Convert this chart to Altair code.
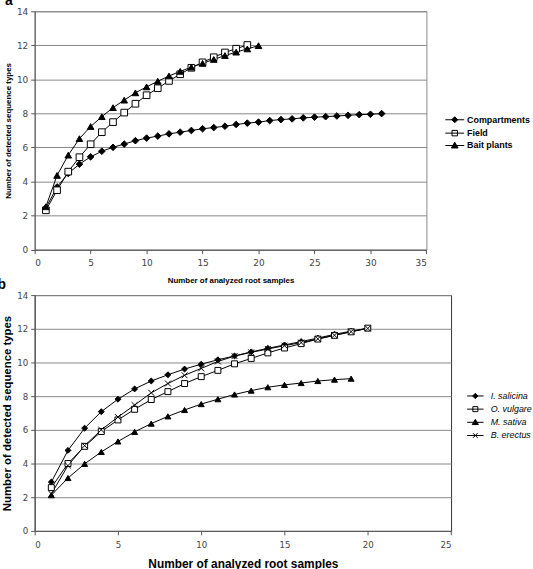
import altair as alt
import pandas as pd

# ---- Panel a: accumulation curves by sampling design ----
series_a = ["Compartments", "Field", "Bait plants"]
samples_compartments = list(range(1, 32))
compartments = [2.45, 3.68, 4.48, 5.02, 5.45, 5.78, 6.01, 6.2, 6.4, 6.55,
                6.67, 6.8, 6.9, 7.0, 7.1, 7.17, 7.25, 7.35, 7.43, 7.49,
                7.58, 7.64, 7.68, 7.74, 7.78, 7.81, 7.85, 7.89, 7.93, 7.95, 7.99]
samples_field = list(range(1, 20))
field = [2.31, 3.49, 4.58, 5.43, 6.19, 6.9, 7.49, 8.05, 8.57, 9.07,
         9.48, 9.91, 10.3, 10.68, 11.0, 11.3, 11.58, 11.8, 12.02]
samples_bait = list(range(1, 21))
bait_plants = [2.52, 4.36, 5.55, 6.52, 7.23, 7.81, 8.34, 8.78, 9.21, 9.56,
               9.89, 10.2, 10.47, 10.72, 10.94, 11.17, 11.4, 11.6, 11.79, 11.98]

# ---- Panel b: accumulation curves by host plant ----
series_b = ["I. salicina", "O. vulgare", "M. sativa", "B. erectus"]
samples_salicina = list(range(1, 21))
salicina = [2.9, 4.78, 6.1, 7.08, 7.82, 8.43, 8.9, 9.27, 9.61, 9.9,
            10.16, 10.39, 10.63, 10.84, 11.04, 11.24, 11.45, 11.67, 11.86, 12.04]
samples_vulgare = list(range(1, 21))
vulgare = [2.57, 4.0, 5.02, 5.9, 6.59, 7.22, 7.8, 8.27, 8.75, 9.16,
           9.53, 9.92, 10.24, 10.57, 10.86, 11.12, 11.39, 11.61, 11.82, 12.04]
samples_sativa = list(range(1, 20))
sativa = [2.12, 3.14, 3.98, 4.69, 5.31, 5.88, 6.37, 6.8, 7.18, 7.53,
          7.82, 8.1, 8.33, 8.53, 8.67, 8.78, 8.9, 8.98, 9.04]
samples_erectus = list(range(1, 21))
erectus = [2.2, 3.88, 5.06, 6.0, 6.76, 7.47, 8.2, 8.75, 9.24, 9.65,
           10.06, 10.38, 10.6, 10.8, 11.0, 11.18, 11.4, 11.62, 11.83, 12.02]

ticks_a = [0, 5, 10, 15, 20, 25, 30, 35]
ticks_b = [0, 5, 10, 15, 20, 25]
ticks_y = [0, 2, 4, 6, 8, 10, 12, 14]


def long_table(parts):
    rows = []
    for name, xs, ys in parts:
        for x, y in zip(xs, ys):
            rows.append({"series": name, "samples": x, "types": y})
    return pd.DataFrame(rows)


df_a = long_table([
    ("Compartments", samples_compartments, compartments),
    ("Field", samples_field, field),
    ("Bait plants", samples_bait, bait_plants),
])
df_b = long_table([
    ("I. salicina", samples_salicina, salicina),
    ("O. vulgare", samples_vulgare, vulgare),
    ("M. sativa", samples_sativa, sativa),
    ("B. erectus", samples_erectus, erectus),
])

X_PATH = "M-1,-1L1,1M-1,1L1,-1"

# legend glyphs: a short line with the marker in its middle
glyphs_a = [
    "M-1.73,0H1.73M0,-0.55L0.55,0L0,0.55L-0.55,0Z",
    "M-1.73,0H1.73M-0.5,-0.5H0.5V0.5H-0.5Z",
    "M-1.73,0H1.73M0,-0.6L0.62,0.45H-0.62Z",
]
glyphs_b = [
    "M-1.38,0H1.38M0,-0.45L0.45,0L0,0.45L-0.45,0Z",
    "M-1.38,0H1.38M-0.42,-0.42H0.42V0.42H-0.42Z",
    "M-1.38,0H1.38M0,-0.5L0.52,0.38H-0.52Z",
    "M-1.38,0H1.38M-0.4,-0.4L0.4,0.4M-0.4,0.4L0.4,-0.4",
]

LABEL_FONT = "DejaVu Sans"
TITLE_FONT = "Liberation Sans"


def panel(df, series, shapes, glyphs, fills, xmax, xticks, width, height, size,
          axis_label_size, x_title_size, y_title_size, legend, letter, letter_dx,
          frame_color, y_title_pad, x_label_pad, x_title_pad):
    x = alt.X("samples:Q", scale=alt.Scale(domain=[0, xmax], nice=False),
              axis=alt.Axis(values=xticks, title="Number of analyzed root samples",
                            titleFont=TITLE_FONT, titleFontSize=x_title_size,
                            titleFontWeight="bold", titleColor="black",
                            titlePadding=x_title_pad,
                            labelFont=LABEL_FONT, labelFontSize=axis_label_size,
                            labelColor="#444", labelPadding=x_label_pad,
                            grid=False, tickSize=4, tickColor="#555",
                            domainColor="#555"))
    y = alt.Y("types:Q", scale=alt.Scale(domain=[0, 14], nice=False),
              axis=alt.Axis(values=ticks_y, title="Number of detected sequence types",
                            titleFont=TITLE_FONT, titleFontSize=y_title_size,
                            titleFontWeight="bold", titleColor="black",
                            titlePadding=y_title_pad,
                            labelFont=LABEL_FONT, labelFontSize=axis_label_size,
                            labelColor="#444", labelPadding=3,
                            grid=True, gridColor="#888", gridWidth=1,
                            tickSize=4, tickColor="#555", domainColor="#555"))
    lines = alt.Chart(df).mark_line(color="black", strokeWidth=1).encode(
        x=x, y=y, detail="series:N")
    points = alt.Chart(df).mark_point(size=size, stroke="black", strokeWidth=1,
                                      opacity=1, fillOpacity=1).encode(
        x=x, y=y,
        shape=alt.Shape("series:N", scale=alt.Scale(domain=series, range=shapes),
                        legend=None),
        fill=alt.Fill("series:N", scale=alt.Scale(domain=series, range=fills),
                      legend=None),
    )
    # invisible layer that only carries the line-and-marker legend
    key = alt.Chart(df).mark_point(opacity=0).encode(
        x=x, y=y,
        shape=alt.Shape("series:N", scale=alt.Scale(domain=series, range=glyphs),
                        legend=legend),
        fill=alt.Fill("series:N", scale=alt.Scale(domain=series, range=fills),
                      legend=legend),
        stroke=alt.Stroke("series:N",
                          scale=alt.Scale(domain=series, range=["black"] * len(series)),
                          legend=legend),
    )
    return alt.layer(lines, points, key).resolve_scale(
        shape="independent", fill="independent", stroke="independent"
    ).resolve_legend(shape="independent", fill="independent",
                     stroke="independent").properties(
        width=width, height=height,
        title=alt.TitleParams(letter, anchor="start", frame="bounds",
                              font=TITLE_FONT, fontSize=14, fontWeight="bold",
                              color="black", offset=-1, dx=letter_dx),
        view=alt.ViewBackground(stroke=frame_color, strokeWidth=1),
    )


legend_a = alt.Legend(
    title=None, orient="none", legendX=418, legendY=103.5,
    labelFont=TITLE_FONT, labelFontSize=9, labelFontWeight="bold", labelColor="black",
    symbolSize=121, symbolStrokeWidth=1, symbolStrokeColor="black", symbolOpacity=1,
    labelOffset=6.4, rowPadding=1.5,
)
legend_b = alt.Legend(
    title=None, orient="none", legendX=438.3, legendY=95.3,
    labelFont=TITLE_FONT, labelFontSize=9, labelFontStyle="italic", labelColor="black",
    symbolSize=144, symbolStrokeWidth=1, symbolStrokeColor="black", symbolOpacity=1,
    labelOffset=9, rowPadding=1.3,
)

chart_a = panel(df_a, series_a, ["diamond", "square", "triangle-up"], glyphs_a,
                ["black", "white", "black"], 35, ticks_a, 395.4, 240.6, 45,
                9, 8, 8, legend_a, "a", 0, "#8a8a8a", 3.5, 5, 9)
chart_b = panel(df_b, series_b, ["diamond", "square", "triangle-up", X_PATH], glyphs_b,
                ["black", "white", "black", "black"], 25, ticks_b, 420.3, 238, 36,
                8.7, 12, 11.5, legend_b, "b", -4, "#333333", 4.4, 6, 9)

chart = alt.concat(chart_a, chart_b, columns=1, spacing=-8.5, align="none").properties(
    padding={"left": -3, "top": -9.3, "right": 0, "bottom": 0},
    background="white",
).resolve_scale(shape="independent", fill="independent", stroke="independent")

chart.save("out.html", embed_options={"renderer": "svg", "actions": False})
